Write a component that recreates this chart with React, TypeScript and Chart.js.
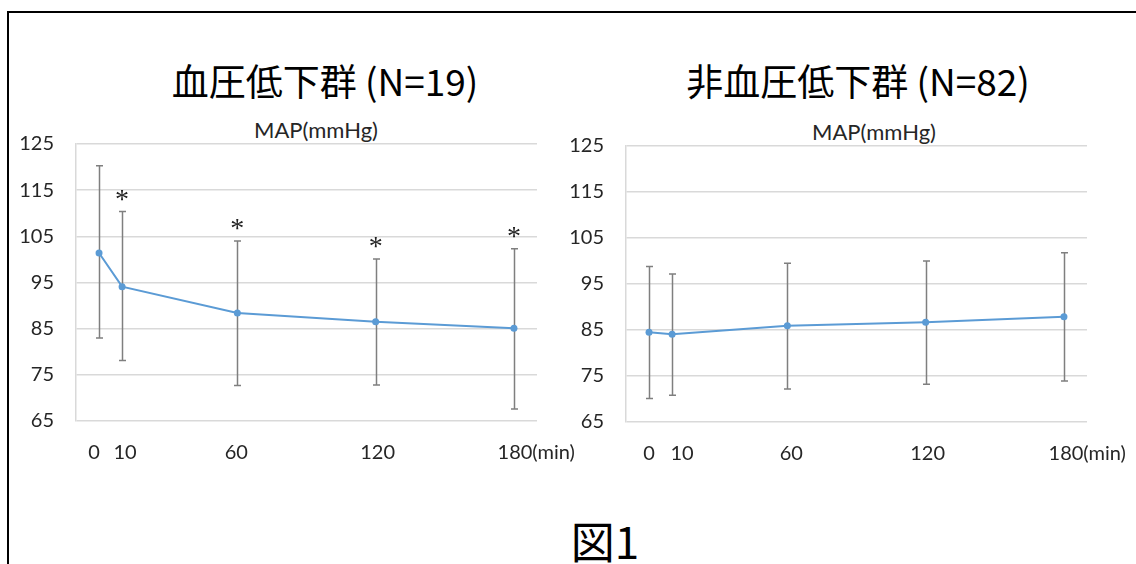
import React, { useEffect, useRef } from "react";
import { Chart, registerables } from "chart.js";

Chart.register(...registerables);

// ---- data ----
const timePoints = [0, 10, 60, 120, 180];
const xTickLabels = ["0", "10", "60", "120", "180"];
const xUnitSuffix = "(min)";
const yMin = 65;
const yMax = 125;
const yStep = 10;

const hypoMean = [101.4, 94.1, 88.4, 86.5, 85.1];
const hypoUpper = [120.3, 110.4, 104.0, 100.1, 102.3];
const hypoLower = [83.0, 78.1, 72.7, 72.8, 67.6];
const hypoSignificant = [false, true, true, true, true];

const nonHypoMean = [84.5, 84.1, 85.9, 86.7, 87.9];
const nonHypoUpper = [98.8, 97.2, 99.5, 100.0, 101.8];
const nonHypoLower = [70.1, 70.8, 72.2, 73.2, 73.9];
const nonHypoSignificant = [false, false, false, false, false];

const leftTitle = "血圧低下群 (N=19)";
const rightTitle = "非血圧低下群 (N=82)";
const chartSubtitle = "MAP(mmHg)";
const figureLabel = "図1";

// ---- styles ----
const TICK_FONT = { family: "Lato", size: 20 };
const TICK_COLOR = "#262626";
const LINE_COLOR = "#5b9bd5";
const ERR_COLOR = "#7f7f7f";
const GRID_COLOR = "#d9d9d9";
const X_LABEL_DY = 32;

const errorBarPlugin = {
  id: "errorBars",
  beforeDatasetsDraw(chart: any, _args: any, opts: any) {
    const { ctx } = chart;
    const x = chart.scales.x;
    const y = chart.scales.y;
    ctx.save();
    ctx.strokeStyle = ERR_COLOR;
    ctx.lineWidth = 1.5;
    timePoints.forEach((t, i) => {
      const px = Math.round(x.getPixelForValue(t)) + 0.5;
      const top = y.getPixelForValue(opts.upper[i]);
      const bot = y.getPixelForValue(opts.lower[i]);
      ctx.beginPath();
      ctx.moveTo(px, top);
      ctx.lineTo(px, bot);
      ctx.moveTo(px - 3.5, top);
      ctx.lineTo(px + 3.5, top);
      ctx.moveTo(px - 3.5, bot);
      ctx.lineTo(px + 3.5, bot);
      ctx.stroke();
    });
    ctx.restore();
  },
  afterDatasetsDraw(chart: any, _args: any, opts: any) {
    const { ctx } = chart;
    const x = chart.scales.x;
    const y = chart.scales.y;
    ctx.save();
    ctx.fillStyle = "#222";
    ctx.font = "28px 'Liberation Serif'";
    ctx.textAlign = "center";
    ctx.textBaseline = "middle";
    timePoints.forEach((t, i) => {
      if (!opts.sig[i]) return;
      const px = x.getPixelForValue(t);
      const top = y.getPixelForValue(opts.upper[i]);
      ctx.fillText("*", px, top - 11);
    });
    ctx.restore();
  },
  afterDraw(chart: any, _args: any, opts: any) {
    // x-axis tick labels, placed at the scale's pixel for each time point
    const { ctx, chartArea } = chart;
    const x = chart.scales.x;
    ctx.save();
    ctx.font = `${TICK_FONT.size}px ${TICK_FONT.family}`;
    ctx.fillStyle = TICK_COLOR;
    ctx.textBaseline = "middle";
    const py = chartArea.bottom + X_LABEL_DY;
    timePoints.forEach((t, i) => {
      const px = x.getPixelForValue(t) + opts.labelOffsets[i];
      const label = xTickLabels[i];
      ctx.textAlign = "center";
      ctx.fillText(label, px, py);
      if (i === timePoints.length - 1) {
        const w = ctx.measureText(label).width;
        ctx.textAlign = "left";
        ctx.fillText(xUnitSuffix, px + w / 2, py);
      }
    });
    ctx.restore();
  },
};

type MapChartProps = {
  mean: number[];
  upper: number[];
  lower: number[];
  sig: boolean[];
  labelOffsets: number[];
  left: number;
  top: number;
  yAxisWidth: number;
  padRight: number;
  padBottom: number;
};

const CANVAS_W = 580;
const CANVAS_H = 360;

function MapChart(p: MapChartProps) {
  const ref = useRef<HTMLCanvasElement>(null);
  useEffect(() => {
    const chart = new Chart(ref.current as HTMLCanvasElement, {
      type: "line",
      data: {
        datasets: [
          {
            data: timePoints.map((t, i) => ({ x: t, y: p.mean[i] })),
            borderColor: LINE_COLOR,
            backgroundColor: LINE_COLOR,
            borderWidth: 2,
            pointRadius: 3.5,
            pointBorderWidth: 0,
            tension: 0,
          },
        ],
      },
      options: {
        responsive: false,
        animation: false,
        layout: { padding: { left: 0, right: p.padRight, top: 33, bottom: p.padBottom } },
        plugins: {
          legend: { display: false },
          tooltip: { enabled: false },
          title: { display: false },
          errorBars: { upper: p.upper, lower: p.lower, sig: p.sig, labelOffsets: p.labelOffsets },
        } as any,
        scales: {
          x: {
            type: "linear",
            min: -10,
            max: 190,
            afterBuildTicks: (s: any) => {
              s.ticks = timePoints.map((v) => ({ value: v }));
            },
            afterFit: (s: any) => {
              s.height = 49;
            },
            grid: { display: false, drawTicks: false },
            border: { display: false },
            ticks: { display: false },
          },
          y: {
            min: yMin,
            max: yMax,
            afterFit: (s: any) => {
              s.width = p.yAxisWidth;
            },
            grid: { color: GRID_COLOR, lineWidth: 1.5, drawTicks: false },
            border: { color: GRID_COLOR, width: 1.5 },
            ticks: { stepSize: yStep, padding: 22, font: TICK_FONT, color: TICK_COLOR },
          },
        },
      },
      plugins: [errorBarPlugin],
    });
    return () => chart.destroy();
  }, []);
  return (
    <canvas
      ref={ref}
      width={CANVAS_W}
      height={CANVAS_H}
      style={{ position: "absolute", left: p.left, top: p.top, width: CANVAS_W, height: CANVAS_H }}
    />
  );
}

function Label(props: { text: string; cx: number; cy: number; size: number; family: string; color?: string }) {
  return (
    <div
      style={{
        position: "absolute",
        left: props.cx,
        top: props.cy,
        transform: "translate(-50%, -50%)",
        whiteSpace: "nowrap",
        fontFamily: props.family,
        fontSize: props.size,
        lineHeight: 1,
        color: props.color || "#000",
      }}
    >
      {props.text}
    </div>
  );
}

export default function App() {
  return (
    <div
      style={{
        position: "absolute",
        left: 0,
        top: 0,
        width: 1136,
        height: 564,
        overflow: "hidden",
        background: "#fff",
      }}
    >
      <div
        style={{
          position: "absolute",
          left: 7,
          top: 11,
          width: 1200,
          height: 700,
          border: "2px solid #000",
        }}
      />
      <Label text={leftTitle} cx={325} cy={80} size={37} family="'Noto Sans CJK JP'" />
      <Label text={rightTitle} cx={858} cy={80} size={37} family="'Noto Sans CJK JP'" />
      <Label text={chartSubtitle} cx={316} cy={130} size={22} family="Lato" color={TICK_COLOR} />
      <Label text={chartSubtitle} cx={874} cy={132} size={22} family="Lato" color={TICK_COLOR} />
      <MapChart
        mean={hypoMean}
        upper={hypoUpper}
        lower={hypoLower}
        sig={hypoSignificant}
        labelOffsets={[-5, 3, -1, 2, 1]}
        left={10}
        top={110}
        yAxisWidth={66}
        padRight={53}
        padBottom={0}
      />
      <MapChart
        mean={nonHypoMean}
        upper={nonHypoUpper}
        lower={nonHypoLower}
        sig={nonHypoSignificant}
        labelOffsets={[0, 10, 4, 2, 2]}
        left={556}
        top={112}
        yAxisWidth={70}
        padRight={49}
        padBottom={1}
      />
      <Label text={figureLabel} cx={605} cy={540} size={44} family="'Noto Sans CJK JP'" />
    </div>
  );
}
